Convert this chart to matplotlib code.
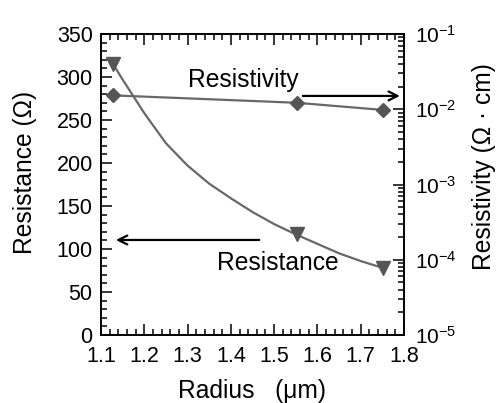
import matplotlib
matplotlib.use("Agg")
import matplotlib.pyplot as plt
from matplotlib.ticker import MultipleLocator, LogLocator, NullFormatter

plt.rcParams["font.family"] = ["Liberation Sans", "DejaVu Sans"]

# measured points
radius = [1.128, 1.552, 1.751]
resistance = [315, 118, 78]
resistivity = [1.53e-2, 1.22e-2, 0.98e-2]

# fitted resistance curve
curve_radius = [1.128, 1.15, 1.2, 1.25, 1.3, 1.35, 1.4, 1.45, 1.5, 1.55, 1.6, 1.65, 1.7, 1.751]
curve_resistance = [315, 297, 258, 223, 197, 176, 159, 143, 129, 117, 106, 95, 86, 78]

line_col = "#686868"
mark_col = "#555555"

fig = plt.figure(figsize=(4.99, 4.03), dpi=100)
ax = fig.add_axes([0.2024, 0.1687, 0.6072, 0.7469])
ax2 = ax.twinx()

ax.plot(curve_radius, curve_resistance, color=line_col, lw=1.6, zorder=2)
ax.plot(radius, resistance, ls="none", marker="v", ms=9.5, color=mark_col, zorder=3)
ax2.plot(radius, resistivity, color=line_col, lw=1.6, marker="D", ms=7, mfc=mark_col, mec=mark_col)

ax.set_xlim(1.1, 1.8)
ax.set_ylim(0, 350)
ax2.set_yscale("log")
ax2.set_ylim(1e-5, 1e-1)

ax.xaxis.set_major_locator(MultipleLocator(0.1))
ax.xaxis.set_minor_locator(MultipleLocator(0.02))
ax.yaxis.set_major_locator(MultipleLocator(50))
ax.yaxis.set_minor_locator(MultipleLocator(10))
ax2.yaxis.set_major_locator(LogLocator(base=10, numticks=10))
ax2.yaxis.set_minor_locator(LogLocator(base=10, subs=range(2, 10), numticks=10))
ax2.yaxis.set_minor_formatter(NullFormatter())

ax.tick_params(which="both", direction="in", top=True, right=False, width=1.1, labelsize=15.5)
ax.tick_params(which="major", length=8)
ax.tick_params(which="minor", length=4)
ax.tick_params(axis="y", pad=6)
ax.tick_params(axis="x", pad=8)
ax2.tick_params(which="both", direction="in", width=1.1, labelsize=15, pad=8)
ax2.tick_params(which="major", length=8)
ax2.tick_params(which="minor", length=4)

for a in (ax, ax2):
    for s in a.spines.values():
        s.set_linewidth(1.2)

ax.set_xlabel("Radius   (\u03bcm)", fontsize=17.7)
ax.set_ylabel("Resistance (\u03a9)", fontsize=17.7)
ax2.set_ylabel("Resistivity (\u03a9 \u00b7 cm)", fontsize=17.7)
ax.xaxis.set_label_coords(0.5, -0.147)
ax.yaxis.set_label_coords(-0.21, 0.54)
ax2.yaxis.set_label_coords(1.224, 0.558)

# annotation arrows, in left-axis data units
ax.annotate("", xy=(1.797, 278), xytext=(1.56, 278),
            arrowprops=dict(arrowstyle="->", color="black", lw=1.6, mutation_scale=16))
ax.annotate("", xy=(1.128, 110.5), xytext=(1.472, 110.5),
            arrowprops=dict(arrowstyle="->", color="black", lw=1.6, mutation_scale=16))
ax.text(1.428, 296.5, "Resistivity", fontsize=17.7, ha="center", va="center")
ax.text(1.508, 84, "Resistance", fontsize=17.7, ha="center", va="center")

fig.savefig("out.png", dpi=100)
plt.close(fig)
